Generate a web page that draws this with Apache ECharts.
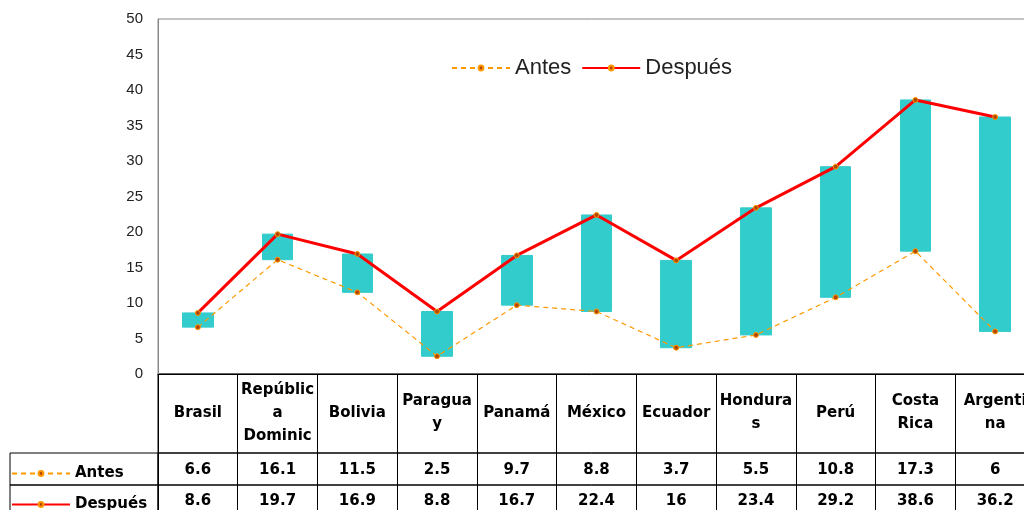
<!DOCTYPE html>
<html>
<head>
<meta charset="utf-8">
<script src="https://cdn.jsdelivr.net/npm/echarts@6/dist/echarts.min.js"></script>
<style>html,body{margin:0;padding:0;background:#fff}#c{width:1024px;height:510px}</style>
</head>
<body>
<div id="c"></div>
<script>
const categories = ['Brasil', 'Repúblic\na\nDominic', 'Bolivia', 'Paragua\ny', 'Panamá', 'México', 'Ecuador', 'Hondura\ns', 'Perú', 'Costa\nRica', 'Argenti\nna'];
const antes = [6.6, 16.1, 11.5, 2.5, 9.7, 8.8, 3.7, 5.5, 10.8, 17.3, 6];
const despues = [8.6, 19.7, 16.9, 8.8, 16.7, 22.4, 16, 23.4, 29.2, 38.6, 36.2];
const seriesNames = ['Antes', 'Después'];
const yTicks = { min: 0, max: 50, interval: 5 };

const chart = echarts.init(document.getElementById('c'));
const PL = 158, PW = 877;
const tableFont = { fontFamily: 'DejaVu Sans', fontWeight: 'bold', fontSize: 15, color: '#000' };
const markerStyle = { color: '#b34700', borderColor: '#ff9900', borderWidth: 1 };

const hiddenAxis = (g, type) => ({ gridIndex: g, type: type, show: false });
const G = (o) => Object.assign({ outerBoundsMode: 'none', containLabel: false }, o);

chart.setOption({
  animation: false,
  grid: [
    G({ left: PL, top: 19, width: PW, height: 355, show: true, borderColor: '#888', borderWidth: 1 }),
    G({ left: PL, top: 374, width: PW, height: 79, show: true, borderColor: '#000', borderWidth: 1 }),
    G({ left: PL, top: 453, width: PW, height: 32, show: true, borderColor: '#000', borderWidth: 1 }),
    G({ left: PL, top: 485, width: PW, height: 32, show: true, borderColor: '#000', borderWidth: 1 }),
    G({ left: 10, top: 453, width: PL - 10, height: 32, show: true, borderColor: '#000', borderWidth: 1 }),
    G({ left: 10, top: 485, width: PL - 10, height: 32, show: true, borderColor: '#000', borderWidth: 1 })
  ],
  xAxis: [
    { gridIndex: 0, type: 'category', data: categories, boundaryGap: true,
      axisLine: { lineStyle: { color: '#000' } }, axisTick: { show: false },
      axisLabel: Object.assign({ interval: 0, margin: 39, verticalAlign: 'middle', lineHeight: 23, align: 'center' }, tableFont) },
    { gridIndex: 1, type: 'category', data: categories, axisLine: { show: false }, axisTick: { show: false },
      axisLabel: { show: false }, splitLine: { show: true, interval: 0, lineStyle: { color: '#000' } } },
    { gridIndex: 2, type: 'category', data: categories, position: 'top', axisLine: { show: false }, axisTick: { show: false },
      axisLabel: Object.assign({ interval: 0, inside: true, margin: 17, verticalAlign: 'middle', formatter: (v, i) => String(antes[i]) }, tableFont),
      splitLine: { show: true, interval: 0, lineStyle: { color: '#000' } } },
    { gridIndex: 3, type: 'category', data: categories, position: 'top', axisLine: { show: false }, axisTick: { show: false },
      axisLabel: Object.assign({ interval: 0, inside: true, margin: 16, verticalAlign: 'middle', formatter: (v, i) => String(despues[i]) }, tableFont),
      splitLine: { show: true, interval: 0, lineStyle: { color: '#000' } } },
    hiddenAxis(4, 'value'),
    hiddenAxis(5, 'value')
  ],
  yAxis: [
    { gridIndex: 0, type: 'value', min: yTicks.min, max: yTicks.max, interval: yTicks.interval,
      axisLine: { show: true, lineStyle: { color: '#888' } }, axisTick: { show: false }, splitLine: { show: false },
      axisLabel: { fontFamily: 'Liberation Sans', fontSize: 15, color: '#222', margin: 15 } },
    hiddenAxis(1, 'value'), hiddenAxis(2, 'value'), hiddenAxis(3, 'value'), hiddenAxis(4, 'value'), hiddenAxis(5, 'value')
  ],
  legend: [
    { data: seriesNames, left: 446, top: 52, itemWidth: 58, itemHeight: 6, itemGap: 10, selectedMode: false,
      textStyle: { fontFamily: 'Liberation Sans', fontSize: 22, color: '#222' } },
    { data: [seriesNames[0]], left: 6, top: 461, itemWidth: 58, itemHeight: 6, itemGap: 4, selectedMode: false,
      textStyle: tableFont },
    { data: [seriesNames[1]], left: 6, top: 492, itemWidth: 58, itemHeight: 6, itemGap: 4, selectedMode: false,
      textStyle: tableFont }
  ],
  series: [
    { type: 'candlestick', name: 'updown', xAxisIndex: 0, yAxisIndex: 0, barWidth: 31, z: 1,
      itemStyle: { color: '#33cccc', color0: '#33cccc', borderColor: '#33cccc', borderColor0: '#33cccc', borderWidth: 1 },
      data: antes.map((a, i) => [a, despues[i], a, despues[i]]) },
    { type: 'line', name: seriesNames[0], xAxisIndex: 0, yAxisIndex: 0, data: antes, z: 3,
      symbol: 'circle', symbolSize: 5, itemStyle: markerStyle,
      lineStyle: { color: '#ff9900', width: 1.2, type: [5, 4] } },
    { type: 'line', name: seriesNames[1], xAxisIndex: 0, yAxisIndex: 0, data: despues, z: 4,
      symbol: 'circle', symbolSize: 5, itemStyle: markerStyle,
      lineStyle: { color: '#ff0000', width: 3 } }
  ]
});
</script>
</body>
</html>
